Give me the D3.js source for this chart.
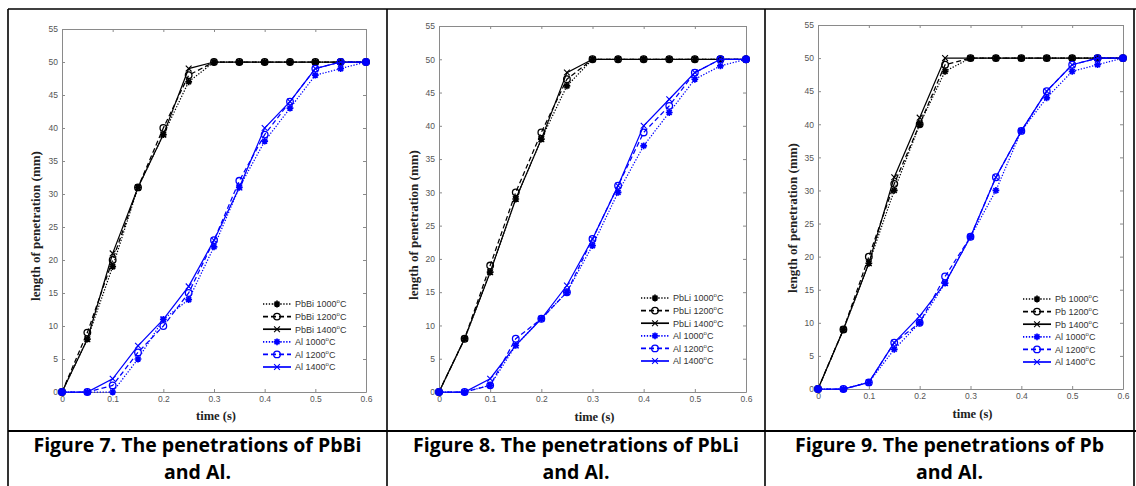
<!DOCTYPE html>
<html>
<head>
<meta charset="utf-8">
<script src="https://cdn.jsdelivr.net/npm/d3@7"></script>
<style>
  html, body { margin: 0; padding: 0; background: #fff; }
  svg { display: block; }
</style>
</head>
<body>
<div id="chart"></div>
<script>
// shared x values and tick labels
const TIME = [0, 0.05, 0.1, 0.15, 0.2, 0.25, 0.3, 0.35, 0.4, 0.45, 0.5, 0.55, 0.6];
const X_TICKS = [0, 0.1, 0.2, 0.3, 0.4, 0.5, 0.6];
const Y_TICKS = [0, 5, 10, 15, 20, 25, 30, 35, 40, 45, 50, 55];
const TEMPS = ["1000", "1200", "1400"];

// Figure 7: PbBi and Al
const PBBI_1000 = [0, 8, 19, 31, 39, 47, 50, 50, 50, 50, 50, 50, 50];
const PBBI_1200 = [0, 9, 20, 31, 40, 48, 50, 50, 50, 50, 50, 50, 50];
const PBBI_1400 = [0, 8, 21, 31, 39, 49, 50, 50, 50, 50, 50, 50, 50];
const AL7_1000 = [0, 0, 0, 5, 11, 14, 22, 31, 38, 43, 48, 49, 50];
const AL7_1200 = [0, 0, 1, 6, 10, 15, 23, 32, 39, 44, 49, 50, 50];
const AL7_1400 = [0, 0, 2, 7, 11, 16, 23, 31, 40, 44, 49, 50, 50];

// Figure 8: PbLi and Al
const PBLI_1000 = [0, 8, 18, 29, 38, 46, 50, 50, 50, 50, 50, 50, 50];
const PBLI_1200 = [0, 8, 19, 30, 39, 47, 50, 50, 50, 50, 50, 50, 50];
const PBLI_1400 = [0, 8, 18, 29, 38, 48, 50, 50, 50, 50, 50, 50, 50];
const AL8_1000 = [0, 0, 1, 7, 11, 15, 22, 30, 37, 42, 47, 49, 50];
const AL8_1200 = [0, 0, 1, 8, 11, 15, 23, 31, 39, 43, 48, 50, 50];
const AL8_1400 = [0, 0, 2, 7, 11, 16, 23, 31, 40, 44, 48, 50, 50];

// Figure 9: Pb and Al
const PB_1000 = [0, 9, 19, 30, 40, 48, 50, 50, 50, 50, 50, 50, 50];
const PB_1200 = [0, 9, 20, 31, 40, 49, 50, 50, 50, 50, 50, 50, 50];
const PB_1400 = [0, 9, 19, 32, 41, 50, 50, 50, 50, 50, 50, 50, 50];
const AL9_1000 = [0, 0, 1, 6, 10, 16, 23, 30, 39, 44, 48, 49, 50];
const AL9_1200 = [0, 0, 1, 7, 10, 17, 23, 32, 39, 45, 49, 50, 50];
const AL9_1400 = [0, 0, 1, 7, 11, 16, 23, 32, 39, 45, 49, 50, 50];

const PANELS = [
  { metal: "PbBi", caption: ["Figure 7. The penetrations of PbBi", "and Al."],
    black: [PBBI_1000, PBBI_1200, PBBI_1400], blue: [AL7_1000, AL7_1200, AL7_1400] },
  { metal: "PbLi", caption: ["Figure 8. The penetrations of PbLi", "and Al."],
    black: [PBLI_1000, PBLI_1200, PBLI_1400], blue: [AL8_1000, AL8_1200, AL8_1400] },
  { metal: "Pb", caption: ["Figure 9. The penetrations of Pb", "and Al."],
    black: [PB_1000, PB_1200, PB_1400], blue: [AL9_1000, AL9_1200, AL9_1400] }
];

// layout (pixels) for each table cell
const W = 1136, H = 486;
const COL_X = [8, 387, 765, 1134];
const TABLE_TOP = 9, ROW_SPLIT = 431;
const LAYOUT = [
  { left: 62, top: 29, right: 366, bottom: 392, ylabX: 35, ylabY: 226, xlabY: 420, legX: 263, legY: 304 },
  { left: 439, top: 26, right: 746, bottom: 392, ylabX: 413, ylabY: 225, xlabY: 421, legX: 641, legY: 298 },
  { left: 818, top: 25, right: 1123, bottom: 389, ylabX: 792, ylabY: 218, xlabY: 418, legX: 1023, legY: 299 }
];

// MATLAB style: ':*', '--o', '-x'
const STYLES = [
  { dash: "1.3,1.6", marker: "star" },
  { dash: "5,3", marker: "circle" },
  { dash: null, marker: "cross" }
];

function drawMarker(g, kind, cx, cy, color) {
  if (kind === "circle") {
    g.append("circle").attr("cx", cx).attr("cy", cy).attr("r", 3.3)
      .attr("fill", "none").attr("stroke", color).attr("stroke-width", 1.3);
  } else if (kind === "star") {
    const r = 3.4;
    const p = "M" + (cx - r) + "," + cy + "H" + (cx + r) +
      "M" + cx + "," + (cy - r) + "V" + (cy + r) +
      "M" + (cx - r * 0.72) + "," + (cy - r * 0.72) + "L" + (cx + r * 0.72) + "," + (cy + r * 0.72) +
      "M" + (cx - r * 0.72) + "," + (cy + r * 0.72) + "L" + (cx + r * 0.72) + "," + (cy - r * 0.72);
    g.append("path").attr("d", p).attr("stroke", color).attr("stroke-width", 1.7).attr("fill", "none");
  } else {
    const r = 2.9;
    const p = "M" + (cx - r) + "," + (cy - r) + "L" + (cx + r) + "," + (cy + r) +
      "M" + (cx - r) + "," + (cy + r) + "L" + (cx + r) + "," + (cy - r);
    g.append("path").attr("d", p).attr("stroke", color).attr("stroke-width", 1.1).attr("fill", "none");
  }
}

function drawPanel(svg, panel, lay, colIdx) {
  const x = d3.scaleLinear().domain([0, 0.6]).range([lay.left, lay.right]);
  const y = d3.scaleLinear().domain([0, 55]).range([lay.bottom, lay.top]);
  const g = svg.append("g");

  // axes, ticks pointing inward on all four sides
  const axisColor = "#8a8a8a";
  const fmtX = d => d === 0 ? "0" : d3.format(".1f")(d);
  const axes = [
    g.append("g").attr("transform", "translate(0," + lay.bottom + ")")
      .call(d3.axisBottom(x).tickValues(X_TICKS).tickFormat(fmtX).tickSizeInner(-3).tickSizeOuter(0).tickPadding(4)),
    g.append("g").attr("transform", "translate(" + lay.left + ",0)")
      .call(d3.axisLeft(y).tickValues(Y_TICKS).tickSizeInner(-3).tickSizeOuter(0).tickPadding(4)),
    g.append("g").attr("transform", "translate(0," + lay.top + ")")
      .call(d3.axisTop(x).tickValues(X_TICKS).tickFormat("").tickSizeInner(-3).tickSizeOuter(0)),
    g.append("g").attr("transform", "translate(" + lay.right + ",0)")
      .call(d3.axisRight(y).tickValues(Y_TICKS).tickFormat("").tickSizeInner(-3).tickSizeOuter(0))
  ];
  axes.forEach(a => {
    a.select(".domain").attr("stroke", axisColor);
    a.selectAll(".tick line").attr("stroke", axisColor);
    a.selectAll(".tick text").attr("fill", "#555").attr("font-size", "8.5px")
      .attr("font-family", "'Liberation Sans', Arial, sans-serif");
  });

  // series
  const line = d3.line().x((d, i) => x(TIME[i])).y(d => y(d));
  const groups = [{ color: "#000000", series: panel.black }, { color: "#0000ff", series: panel.blue }];
  groups.forEach(grp => {
    grp.series.forEach((vals, k) => {
      const st = STYLES[k];
      g.append("path").datum(vals).attr("d", line)
        .attr("fill", "none").attr("stroke", grp.color).attr("stroke-width", 1.25)
        .attr("stroke-dasharray", st.dash);
      vals.forEach((v, i) => drawMarker(g, st.marker, x(TIME[i]), y(v), grp.color));
    });
  });

  // axis titles
  g.append("text").attr("x", (lay.left + lay.right) / 2 + 2).attr("y", lay.xlabY)
    .attr("text-anchor", "middle").attr("font-family", "'Liberation Serif', 'Times New Roman', serif")
    .attr("font-weight", "bold").attr("font-size", "12.5px").attr("fill", "#222").text("time (s)");
  g.append("text").attr("transform", "translate(" + (lay.ylabX + 4.5) + "," + lay.ylabY + ") rotate(-90)")
    .attr("text-anchor", "middle").attr("font-family", "'Liberation Serif', 'Times New Roman', serif")
    .attr("font-weight", "bold").attr("font-size", "13px").attr("fill", "#222")
    .text("length of penetration (mm)");

  // legend
  const leg = g.append("g");
  const entries = [];
  groups.forEach((grp, gi) => grp.series.forEach((s, k) =>
    entries.push({ name: (gi === 0 ? panel.metal : "Al") + " " + TEMPS[k], color: grp.color, st: STYLES[k] })));
  entries.forEach((e, i) => {
    const ly = lay.legY + i * 12.6;
    leg.append("line").attr("x1", lay.legX).attr("x2", lay.legX + 28).attr("y1", ly).attr("y2", ly)
      .attr("stroke", e.color).attr("stroke-width", 1.7).attr("stroke-dasharray", e.st.dash);
    drawMarker(leg, e.st.marker, lay.legX + 14, ly, e.color);
    const t = leg.append("text").attr("x", lay.legX + 32).attr("y", ly + 3.3)
      .attr("font-family", "'Liberation Sans', Arial, sans-serif").attr("font-size", "9px").attr("fill", "#333");
    t.append("tspan").text(e.name);
    t.append("tspan").attr("font-size", "6px").attr("dy", -4).text("o");
    t.append("tspan").attr("dy", 4).text("C");
  });

  // caption
  const cx = (COL_X[colIdx] + COL_X[colIdx + 1]) / 2;
  panel.caption.forEach((c, i) => {
    svg.append("text").attr("x", cx).attr("y", 452 + i * 27).attr("text-anchor", "middle")
      .attr("font-family", "'Open Sans', Lato, sans-serif").attr("font-weight", "bold")
      .attr("font-size", "19.5px").attr("fill", "#000").text(c);
  });
}

const svg = d3.select("#chart").append("svg").attr("width", W).attr("height", H);

// table borders
const borders = svg.append("g").attr("stroke", "#000").attr("stroke-width", 1.6);
borders.append("line").attr("x1", COL_X[0]).attr("x2", W).attr("y1", TABLE_TOP).attr("y2", TABLE_TOP);
borders.append("line").attr("x1", COL_X[0]).attr("x2", W).attr("y1", ROW_SPLIT).attr("y2", ROW_SPLIT).attr("stroke-width", 2.2);
COL_X.forEach(cx => borders.append("line").attr("x1", cx).attr("x2", cx).attr("y1", TABLE_TOP).attr("y2", H));

PANELS.forEach((p, i) => drawPanel(svg, p, LAYOUT[i], i));
</script>
</body>
</html>
